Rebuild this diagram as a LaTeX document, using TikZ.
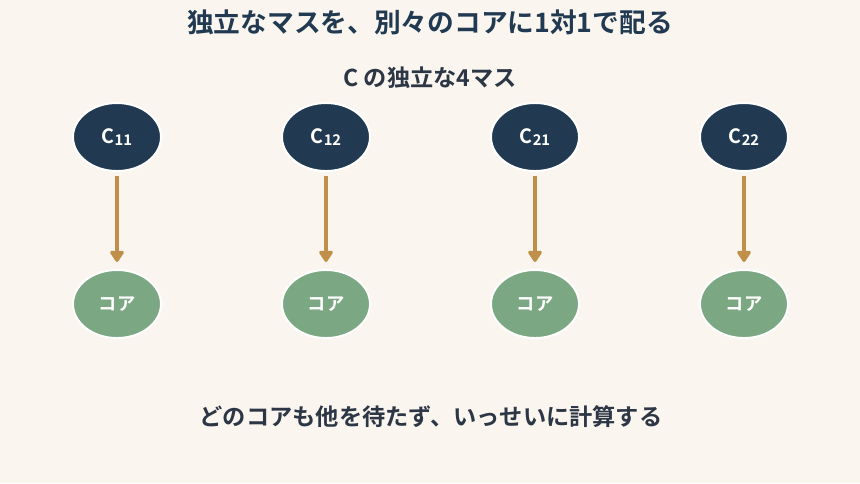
\documentclass[tikz,border=0pt]{standalone}
\usepackage{fontspec}
\setmainfont{Noto Sans CJK JP}[BoldFont={* Bold}]
\usetikzlibrary{shapes.geometric,arrows.meta}
\definecolor{paper}{HTML}{FAF6EF}
\definecolor{navy}{HTML}{213A52}
\definecolor{ink}{HTML}{2C3645}
\definecolor{sage}{HTML}{7BA883}
\definecolor{ochre}{HTML}{C0904A}
\newcommand{\sub}[1]{\raisebox{-0.25ex}{\fontsize{10.5}{12}\selectfont #1}}
\tikzset{cell/.style = {ellipse, fill=navy, draw=white, line width=1.4pt,
    minimum width=2.2cm, minimum height=1.7cm, inner sep=1pt, text=white,
    font=\bfseries\fontsize{14}{16}\selectfont},
  core/.style = {cell, fill=sage, font=\bfseries\fontsize{13}{15}\selectfont},
  flow/.style = {ochre, line width=2.8pt, shorten <=3pt, shorten >=5pt,
    -{Triangle[length=9pt, width=11pt, round]}}}

\begin{document}
\begin{tikzpicture}[x=0.025cm, y=-0.025cm]
      \fill[paper] (0,0) rectangle (860,483);
      \node[text=navy, font=\bfseries\fontsize{19}{22}\selectfont] (title) at (430,22)
        {独立なマスを、別々のコアに1対1で配る};
      \node[text=ink, font=\bfseries\fontsize{16.5}{20}\selectfont] (subtitle) at (430,78)
        {C の独立な4マス};
      % the four cells of C
      \node[cell] (c11) at (117,137) {C\sub{11}};
      \node[cell] (c12) at (326,137) {C\sub{12}};
      \node[cell] (c21) at (535,137) {C\sub{21}};
      \node[cell] (c22) at (744,137) {C\sub{22}};
      % one core each
      \node[core] (k11) at (117,304) {コア};
      \node[core] (k12) at (326,304) {コア};
      \node[core] (k21) at (535,304) {コア};
      \node[core] (k22) at (744,304) {コア};
      \draw[flow] (c11) -- (k11);
      \draw[flow] (c12) -- (k12);
      \draw[flow] (c21) -- (k21);
      \draw[flow] (c22) -- (k22);
      \node[text=ink, font=\bfseries\fontsize{16.5}{20}\selectfont] (note) at (431,417)
        {どのコアも他を待たず、いっせいに計算する};
    \end{tikzpicture}
\end{document}
